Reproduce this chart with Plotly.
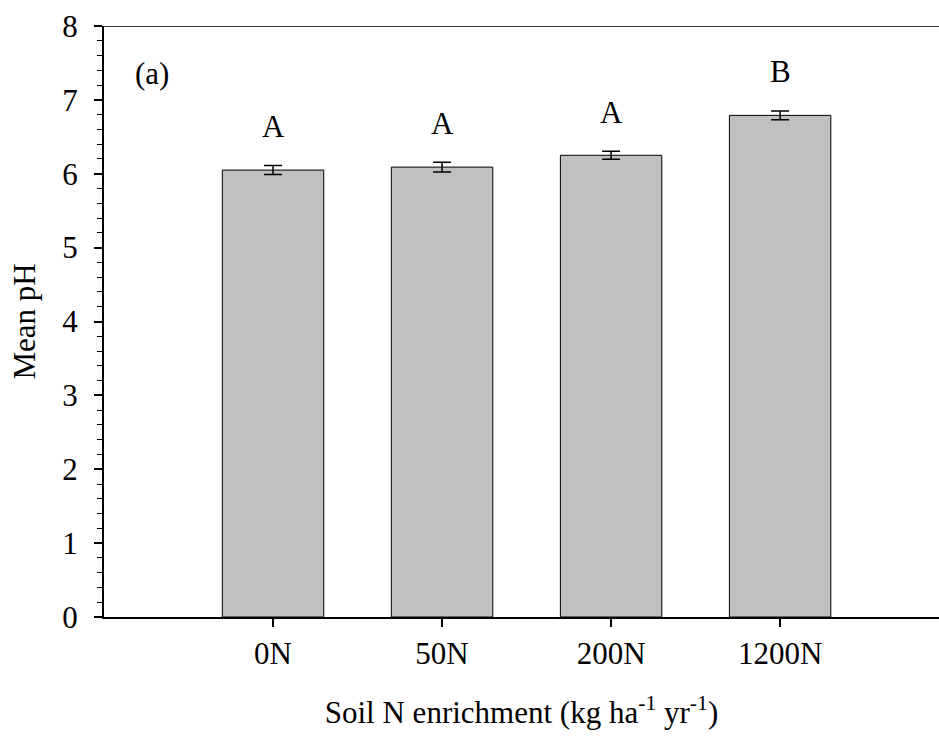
import plotly.graph_objects as go

categories = ["0N", "50N", "200N", "1200N"]
mean_ph = [6.05, 6.09, 6.25, 6.79]
se_ph = [0.06, 0.065, 0.055, 0.06]
letters = ["A", "A", "A", "B"]

FONT = "Liberation Serif, Times New Roman, serif"
FS = 31
idx = list(range(len(categories)))

fig = go.Figure()
fig.add_trace(go.Bar(
    x=idx, y=mean_ph, width=0.6,
    marker=dict(color="#c0c0c0", line=dict(color="black", width=1)),
    error_y=dict(type="data", array=se_ph, color="black", thickness=1.5, width=9),
    showlegend=False,
))

for i, (m, s, l) in enumerate(zip(mean_ph, se_ph, letters)):
    fig.add_annotation(x=i, y=m + s + 0.53, text=l, showarrow=False,
                       xanchor="center", yanchor="middle",
                       font=dict(family=FONT, size=FS, color="black"))

fig.add_annotation(x=0.035, y=0.92, xref="paper", yref="paper", text="(a)",
                   showarrow=False, xanchor="left", yanchor="middle",
                   font=dict(family=FONT, size=FS, color="black"))

fig.add_shape(type="line", xref="paper", yref="y", x0=-0.011, x1=1, y0=8, y1=8,
              line=dict(color="black", width=1.5))

fig.update_layout(
    width=939, height=736,
    margin=dict(l=104, r=0, t=26, b=119),
    plot_bgcolor="white", paper_bgcolor="white",
    font=dict(family=FONT, size=FS, color="black"),
    xaxis=dict(
        range=[-1, 3.94], tickmode="array", tickvals=idx, ticktext=categories,
        showline=True, linecolor="black", linewidth=2,
        ticks="outside", ticklen=8, tickwidth=1.5, tickcolor="black",
        showgrid=False, zeroline=False,
        title=dict(text="Soil N enrichment (kg ha<sup>-1</sup> yr<sup>-1</sup>)",
                   font=dict(family=FONT, size=FS), standoff=31),
        tickfont=dict(family=FONT, size=FS),
    ),
    yaxis=dict(
        range=[0, 8], tickmode="linear", dtick=1, tick0=0,
        showline=True, linecolor="black", linewidth=2,
        ticks="outside", ticklen=8, tickwidth=1.5, tickcolor="black",
        ticklabelstandoff=10,
        minor=dict(dtick=0.2, ticks="outside", ticklen=5, tickwidth=1, tickcolor="black"),
        showgrid=False, zeroline=False,
        title=dict(text="Mean pH", font=dict(family=FONT, size=FS), standoff=17),
        tickfont=dict(family=FONT, size=FS),
    ),
)

fig.write_html("out.html", config={"displayModeBar": False},
               post_script="document.body.style.margin='0';document.body.style.overflow='hidden';")
